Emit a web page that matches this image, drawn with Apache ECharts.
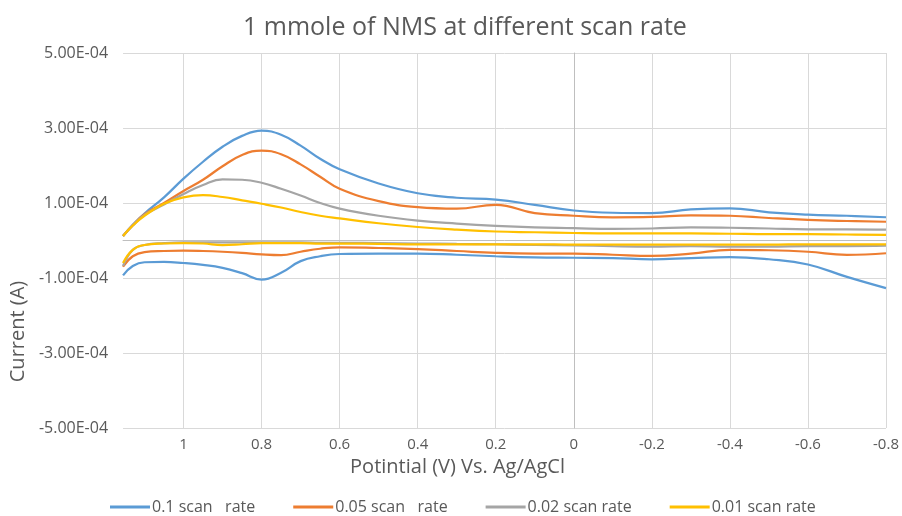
<!DOCTYPE html>
<html>
<head>
<meta charset="utf-8">
<script src="https://cdn.jsdelivr.net/npm/echarts@6/dist/echarts.min.js"></script>
<style>
  html, body { margin: 0; padding: 0; background: #fff; }
  #chart { width: 902px; height: 516px; }
</style>
</head>
<body>
<div id="chart"></div>
<script>
// potentials (V) for the two scan branches
const upperPotential = [1.155, 1.13, 1.1, 1.05, 1.0, 0.95, 0.9, 0.85, 0.8, 0.75, 0.7, 0.65, 0.6, 0.5, 0.4, 0.3, 0.2, 0.1, 0, -0.1, -0.2, -0.3, -0.4, -0.5, -0.6, -0.7, -0.8];
const lowerPotential = [1.155, 1.13, 1.1, 1.05, 1.0, 0.95, 0.9, 0.85, 0.8, 0.75, 0.7, 0.65, 0.6, 0.5, 0.4, 0.3, 0.2, 0.1, 0, -0.1, -0.2, -0.3, -0.4, -0.5, -0.6, -0.7, -0.8];

// current (A), anodic branch
const upper01 = [0.12e-4, 0.42e-4, 0.72e-4, 1.15e-4, 1.65e-4, 2.1e-4, 2.5e-4, 2.79e-4, 2.93e-4, 2.82e-4, 2.53e-4, 2.18e-4, 1.9e-4, 1.52e-4, 1.26e-4, 1.14e-4, 1.09e-4, 0.95e-4, 0.8e-4, 0.74e-4, 0.73e-4, 0.83e-4, 0.86e-4, 0.75e-4, 0.69e-4, 0.66e-4, 0.62e-4];
const upper005 = [0.12e-4, 0.41e-4, 0.7e-4, 1.0e-4, 1.32e-4, 1.62e-4, 1.98e-4, 2.28e-4, 2.4e-4, 2.3e-4, 2.03e-4, 1.7e-4, 1.38e-4, 1.05e-4, 0.89e-4, 0.85e-4, 0.95e-4, 0.73e-4, 0.66e-4, 0.62e-4, 0.63e-4, 0.67e-4, 0.66e-4, 0.6e-4, 0.55e-4, 0.52e-4, 0.5e-4];
const upper002 = [0.12e-4, 0.4e-4, 0.68e-4, 0.96e-4, 1.24e-4, 1.48e-4, 1.63e-4, 1.62e-4, 1.54e-4, 1.38e-4, 1.2e-4, 1.0e-4, 0.85e-4, 0.66e-4, 0.53e-4, 0.45e-4, 0.39e-4, 0.35e-4, 0.33e-4, 0.31e-4, 0.32e-4, 0.35e-4, 0.34e-4, 0.32e-4, 0.3e-4, 0.3e-4, 0.29e-4];
const upper001 = [0.12e-4, 0.4e-4, 0.66e-4, 0.98e-4, 1.15e-4, 1.21e-4, 1.16e-4, 1.07e-4, 0.98e-4, 0.88e-4, 0.76e-4, 0.66e-4, 0.59e-4, 0.46e-4, 0.36e-4, 0.29e-4, 0.24e-4, 0.22e-4, 0.2e-4, 0.19e-4, 0.19e-4, 0.19e-4, 0.18e-4, 0.17e-4, 0.17e-4, 0.16e-4, 0.15e-4];

// current (A), cathodic branch
const lower01 = [-0.93e-4, -0.68e-4, -0.58e-4, -0.57e-4, -0.6e-4, -0.65e-4, -0.73e-4, -0.87e-4, -1.04e-4, -0.86e-4, -0.55e-4, -0.42e-4, -0.36e-4, -0.35e-4, -0.35e-4, -0.38e-4, -0.42e-4, -0.45e-4, -0.46e-4, -0.47e-4, -0.5e-4, -0.47e-4, -0.44e-4, -0.5e-4, -0.64e-4, -0.97e-4, -1.27e-4];
const lower005 = [-0.7e-4, -0.42e-4, -0.31e-4, -0.28e-4, -0.27e-4, -0.28e-4, -0.3e-4, -0.33e-4, -0.37e-4, -0.39e-4, -0.3e-4, -0.22e-4, -0.18e-4, -0.2e-4, -0.23e-4, -0.28e-4, -0.33e-4, -0.35e-4, -0.35e-4, -0.38e-4, -0.41e-4, -0.35e-4, -0.25e-4, -0.26e-4, -0.3e-4, -0.38e-4, -0.34e-4];
const lower002 = [-0.68e-4, -0.25e-4, -0.12e-4, -0.07e-4, -0.05e-4, -0.05e-4, -0.05e-4, -0.05e-4, -0.05e-4, -0.05e-4, -0.05e-4, -0.06e-4, -0.06e-4, -0.07e-4, -0.08e-4, -0.09e-4, -0.1e-4, -0.12e-4, -0.13e-4, -0.15e-4, -0.16e-4, -0.15e-4, -0.16e-4, -0.16e-4, -0.15e-4, -0.15e-4, -0.14e-4];
const lower001 = [-0.6e-4, -0.25e-4, -0.12e-4, -0.08e-4, -0.07e-4, -0.08e-4, -0.12e-4, -0.1e-4, -0.07e-4, -0.07e-4, -0.07e-4, -0.08e-4, -0.08e-4, -0.09e-4, -0.1e-4, -0.1e-4, -0.1e-4, -0.1e-4, -0.11e-4, -0.11e-4, -0.11e-4, -0.11e-4, -0.11e-4, -0.11e-4, -0.1e-4, -0.1e-4, -0.1e-4];

const seriesNames = ['0.1 scan   rate', '0.05 scan   rate', '0.02 scan rate', '0.01 scan rate'];
const xTicks = [1, 0.8, 0.6, 0.4, 0.2, 0, -0.2, -0.4, -0.6, -0.8];
const yTicks = [-5e-4, -3e-4, -1e-4, 1e-4, 3e-4, 5e-4];

const colors = ['#5B9BD5', '#ED7D31', '#A5A5A5', '#FFC000'];
const upperSets = [upper01, upper005, upper002, upper001];
const lowerSets = [lower01, lower005, lower002, lower001];

const textColor = '#595959';
const font = '"Open Sans", sans-serif';

const pairs = (xs, ys) => xs.map((x, i) => [x, ys[i]]);

const fmtExp = (v) => {
  const [m, e] = v.toExponential(2).split('e');
  const sign = e[0] === '-' ? '-' : '+';
  const digits = e.replace(/[+-]/, '').padStart(2, '0');
  return m + 'E' + sign + digits;
};

const series = [];
seriesNames.forEach((name, i) => {
  [pairs(upperPotential, upperSets[i]), pairs(lowerPotential, lowerSets[i])].forEach((data) => {
    series.push({
      name,
      type: 'line',
      data,
      xAxisIndex: 0,
      yAxisIndex: 0,
      smooth: 0.45,
      showSymbol: false,
      lineStyle: { color: colors[i], width: 2.25 },
      itemStyle: { color: colors[i] },
      animation: false,
    });
  });
});

const chart = echarts.init(document.getElementById('chart'));

chart.setOption({
  backgroundColor: '#fff',
  title: {
    text: '1 mmole of NMS at different scan rate',
    left: 243,
    top: 15,
    padding: 0,
    textStyle: { color: textColor, fontFamily: font, fontSize: 25, fontWeight: 'normal' },
  },
  legend: {
    data: seriesNames,
    left: 110,
    top: 499,
    padding: 0,
    icon: 'rect',
    itemWidth: 40,
    itemHeight: 3,
    itemGap: 38,
    textStyle: { color: textColor, fontFamily: font, fontSize: 16, padding: [0, 0, 0, -3] },
  },
  grid: { left: 120, right: 16, top: 53, bottom: 88, containLabel: false },
  xAxis: [
    {
      type: 'value',
      inverse: true,
      min: -0.8,
      max: 1.155,
      name: 'Potintial (V) Vs. Ag/AgCl',
      nameLocation: 'middle',
      nameGap: 28,
      nameTextStyle: { color: textColor, fontFamily: font, fontSize: 20, padding: [0, 94, 0, 0] },
      axisLine: { show: false },
      axisTick: { show: false, customValues: xTicks },
      axisLabel: { customValues: xTicks, color: textColor, fontFamily: font, fontSize: 15, margin: 9 },
      splitLine: { show: true, lineStyle: { color: '#d9d9d9', width: 1 } },
    },
    {
      type: 'value',
      inverse: true,
      min: -0.8,
      max: 1.155,
      axisLine: { show: true, onZero: true, lineStyle: { color: '#bfbfbf', width: 1 } },
      axisTick: { show: false },
      axisLabel: { show: false },
      splitLine: { show: false },
    },
  ],
  yAxis: [
    {
      type: 'value',
      min: -5e-4,
      max: 5e-4,
      name: 'Current (A)',
      nameLocation: 'middle',
      nameGap: 90,
      nameTextStyle: { color: textColor, fontFamily: font, fontSize: 20, padding: [0, 182, 0, 0] },
      axisLine: { show: false },
      axisTick: { show: false, customValues: yTicks },
      axisLabel: { customValues: yTicks, formatter: fmtExp, color: textColor, fontFamily: font, fontSize: 16, margin: 15 },
      splitLine: { show: true, lineStyle: { color: '#d9d9d9', width: 1 } },
    },
    {
      type: 'value',
      min: -5e-4,
      max: 5e-4,
      axisLine: { show: true, onZero: true, lineStyle: { color: '#bfbfbf', width: 1 } },
      axisTick: { show: false },
      axisLabel: { show: false },
      splitLine: { show: false },
    },
  ],
  series,
});
</script>
</body>
</html>
